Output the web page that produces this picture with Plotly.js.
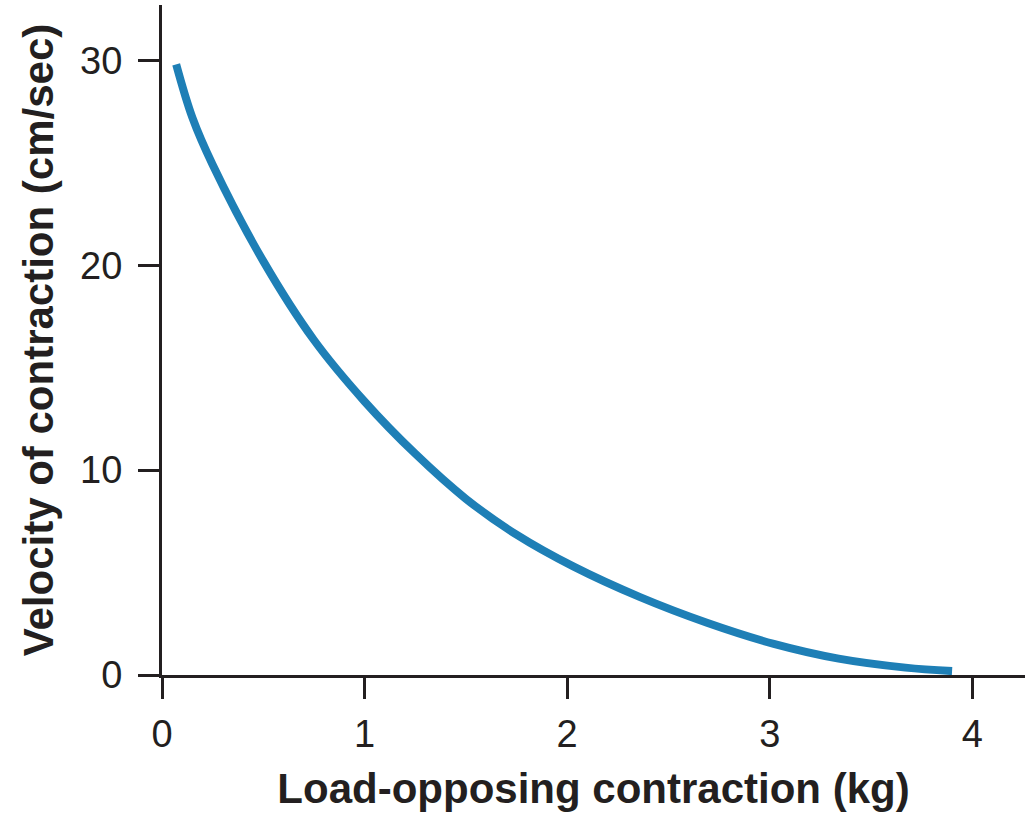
<!DOCTYPE html>
<html>
<head>
<meta charset="utf-8">
<script src="https://cdn.plot.ly/plotly-3.0.1.min.js"></script>
<style>html,body{margin:0;padding:0;background:#fff;}#chart{width:1025px;height:817px;}</style>
</head>
<body>
<div id="chart"></div>
<script>
const loadKg = [0.07, 0.15, 0.25, 0.5, 0.75, 1.0, 1.25, 1.5, 1.75, 2.03, 2.36, 2.69, 3.02, 3.34, 3.67, 3.9];
const velocity = [29.8, 27.2, 24.9, 20.2, 16.35, 13.35, 10.8, 8.6, 6.85, 5.3, 3.8, 2.55, 1.52, 0.8, 0.36, 0.19];
const xTicks = [0, 1, 2, 3, 4];
const yTicks = [0, 10, 20, 30];

const ink = '#231f20';
const fam = 'Liberation Sans, Arial, Helvetica, sans-serif';
const trace = {
  x: loadKg, y: velocity, type: 'scatter', mode: 'lines',
  line: {color: '#1e7fb6', width: 8, shape: 'spline', smoothing: 1.0},
  hoverinfo: 'skip'
};
const axisCommon = {
  showline: true, linecolor: ink, linewidth: 3,
  ticks: 'outside', ticklen: 21, tickwidth: 3, tickcolor: ink,
  showgrid: false, zeroline: false,
  tickfont: {family: fam, size: 38, color: ink}
};
const layout = {
  width: 1025, height: 817,
  margin: {l: 162, r: 0, t: 5, b: 142},
  paper_bgcolor: '#fff', plot_bgcolor: '#fff',
  showlegend: false,
  xaxis: Object.assign({}, axisCommon, {
    range: [0, 4.26], tickvals: xTicks, ticktext: xTicks.map(String),
    ticklabelstandoff: 2,
    title: {text: 'Load-opposing contraction (kg)', standoff: 21,
      font: {family: fam, size: 42, color: ink, weight: 'bold'}}
  }),
  yaxis: Object.assign({}, axisCommon, {
    range: [0, 32.7], tickvals: yTicks, ticktext: yTicks.map(String),
    ticklabelstandoff: 8,
    title: {text: 'Velocity of contraction (cm/sec)', standoff: 14,
      font: {family: fam, size: 42, color: ink, weight: 'bold'}}
  })
};
Plotly.newPlot('chart', [trace], layout, {displayModeBar: false, staticPlot: true});
</script>
</body>
</html>
